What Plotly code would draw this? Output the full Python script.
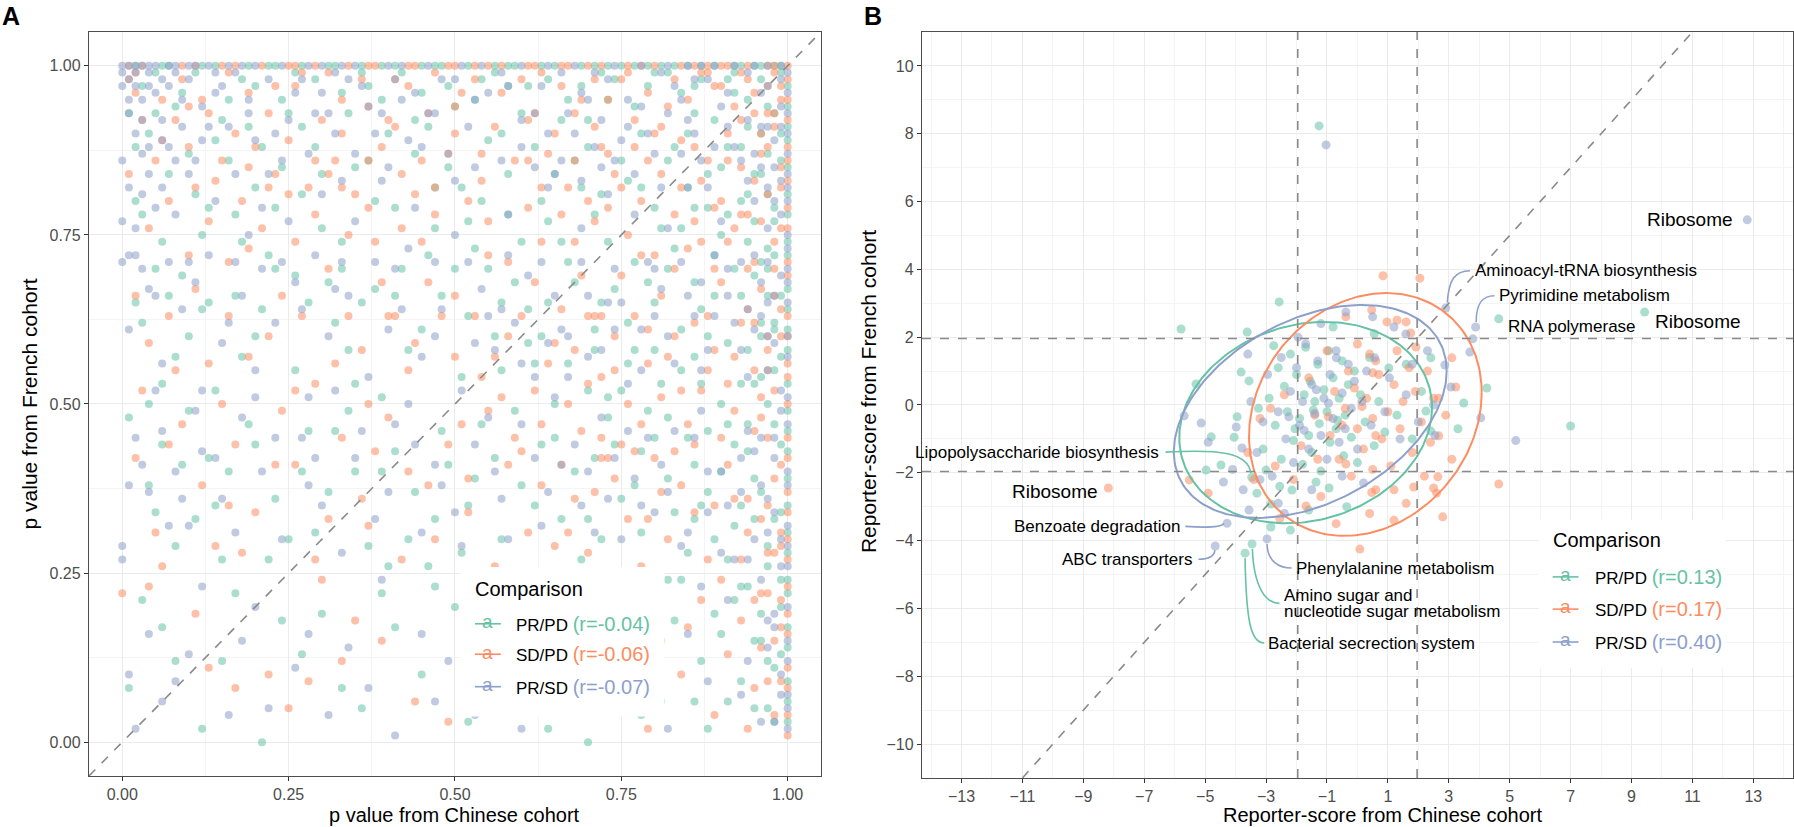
import numpy as np
import plotly.graph_objects as go

FONT = 'Liberation Sans, Arial, Helvetica, sans-serif'
GROUPS = ['PR/PD', 'SD/PD', 'PR/SD']
COLORS = {'PR/PD': '#66C2A5', 'SD/PD': '#FC8D62', 'PR/SD': '#8DA0CB'}

# ---------------- panel A : p values ----------------
# points sitting on the top edge (y = 1.00) -> x values
a_prpd_top_x = [0.02, 0.06, 0.07, 0.12, 0.14, 0.19, 0.22, 0.23, 0.27, 0.31, 0.32, 0.36, 0.39, 0.41, 0.45,
                0.47, 0.48, 0.52, 0.56, 0.58, 0.59, 0.63, 0.65, 0.69, 0.71, 0.73, 0.75, 0.77, 0.79, 0.81,
                0.83, 0.85, 0.87, 0.89, 0.92, 0.93, 0.95, 0.96, 0.98, 0.99]
a_sdpd_top_x = [0.01, 0.03, 0.09, 0.11, 0.15, 0.17, 0.21, 0.25, 0.26, 0.29, 0.34, 0.37, 0.38, 0.43, 0.44,
                0.49, 0.50, 0.53, 0.55, 0.57, 0.61, 0.62, 0.66, 0.67, 0.70, 0.72, 0.76, 0.78, 0.80, 0.84,
                0.86, 0.88, 0.90, 0.91, 0.94, 0.97, 0.98, 1.00]
a_prsd_top_x = [0.00, 0.01, 0.02, 0.03, 0.04, 0.05, 0.07, 0.08, 0.10, 0.11, 0.13, 0.16, 0.18, 0.20, 0.24,
                0.28, 0.30, 0.33, 0.35, 0.40, 0.42, 0.46, 0.51, 0.54, 0.60, 0.64, 0.68, 0.74, 0.78, 0.82,
                0.85, 0.87, 0.89, 0.92, 0.95, 0.97, 0.99]

# points sitting on the right edge (x = 1.00) -> y values
a_prpd_right_y = [0.03, 0.06, 0.09, 0.14, 0.17, 0.22, 0.24, 0.28, 0.31, 0.35, 0.39, 0.43, 0.46, 0.49,
                  0.53, 0.58, 0.61, 0.64, 0.67, 0.72, 0.74, 0.78, 0.81, 0.85, 0.89, 0.91, 0.94, 0.97]
a_sdpd_right_y = [0.01, 0.04, 0.08, 0.11, 0.16, 0.19, 0.23, 0.27, 0.30, 0.34, 0.37, 0.42, 0.45, 0.50,
                  0.54, 0.56, 0.60, 0.63, 0.69, 0.71, 0.76, 0.79, 0.83, 0.86, 0.88, 0.92, 0.95, 0.98]
a_prsd_right_y = [0.02, 0.05, 0.07, 0.12, 0.15, 0.20, 0.26, 0.29, 0.32, 0.38, 0.40, 0.47, 0.51, 0.57,
                  0.60, 0.65, 0.68, 0.70, 0.73, 0.75, 0.80, 0.82, 0.84, 0.87, 0.90, 0.93, 0.96, 0.99]

a_prpd_pts = [
    (0.01, 0.93), (0.02, 0.88), (0.04, 0.90), (0.07, 0.84), (0.10, 0.87), (0.13, 0.79), (0.16, 0.95), (0.19, 0.91),
    (0.21, 0.88), (0.25, 0.93), (0.27, 0.81), (0.30, 0.76), (0.33, 0.96), (0.35, 0.85), (0.38, 0.80), (0.40, 0.90),
    (0.44, 0.87), (0.47, 0.82), (0.50, 0.94), (0.52, 0.77), (0.55, 0.89), (0.58, 0.84), (0.61, 0.97), (0.63, 0.80),
    (0.66, 0.92), (0.68, 0.86), (0.71, 0.78), (0.73, 0.95), (0.76, 0.83), (0.78, 0.90), (0.81, 0.76), (0.83, 0.88),
    (0.86, 0.93), (0.88, 0.79), (0.90, 0.85), (0.92, 0.96), (0.94, 0.81), (0.96, 0.90), (0.98, 0.77), (0.99, 0.86),
    (0.03, 0.78), (0.09, 0.96), (0.24, 0.85), (0.45, 0.96), (0.57, 0.90), (0.69, 0.97), (0.79, 0.97), (0.85, 0.82),
    (0.93, 0.88), (0.97, 0.94), (0.18, 0.98), (0.36, 0.99), (0.54, 0.98), (0.82, 0.99), (0.91, 0.98),
    (0.03, 0.97), (0.08, 0.94), (0.11, 0.99), (0.15, 0.92), (0.20, 0.97), (0.24, 0.95), (0.29, 0.98), (0.34, 0.93),
    (0.37, 0.97), (0.42, 0.99), (0.46, 0.91), (0.49, 0.97), (0.53, 0.95), (0.56, 0.99), (0.60, 0.93), (0.64, 0.98),
    (0.67, 0.95), (0.70, 0.92), (0.74, 0.98), (0.77, 0.94), (0.80, 0.99), (0.84, 0.96), (0.87, 0.98), (0.89, 0.92),
    (0.92, 0.99), (0.94, 0.95), (0.96, 0.98), (0.98, 0.93), (0.99, 0.99), (0.05, 0.99), (0.26, 0.99), (0.39, 0.95),
    (0.58, 0.97), (0.72, 0.99), (0.86, 0.97),
    (0.97, 0.05), (0.98, 0.11), (0.96, 0.15), (0.99, 0.20), (0.97, 0.26), (0.98, 0.33), (0.95, 0.39), (0.99, 0.44),
    (0.97, 0.50), (0.98, 0.55), (0.96, 0.60), (0.99, 0.66), (0.97, 0.73), (0.98, 0.79), (0.95, 0.84), (0.99, 0.90),
    (0.94, 0.47), (0.96, 0.71), (0.93, 0.23), (0.99, 0.13), (0.98, 0.62), (0.97, 0.87),
    (0.02, 0.65), (0.03, 0.62), (0.05, 0.70), (0.08, 0.57), (0.09, 0.69), (0.12, 0.64), (0.14, 0.52), (0.17, 0.66),
    (0.20, 0.60), (0.22, 0.72), (0.26, 0.55), (0.28, 0.65), (0.31, 0.68), (0.34, 0.58), (0.36, 0.65), (0.39, 0.51),
    (0.42, 0.70), (0.45, 0.61), (0.48, 0.66), (0.51, 0.54), (0.53, 0.73), (0.56, 0.60), (0.59, 0.68), (0.62, 0.56),
    (0.64, 0.65), (0.67, 0.71), (0.70, 0.52), (0.72, 0.65), (0.74, 0.67), (0.77, 0.58), (0.80, 0.65), (0.82, 0.70),
    (0.84, 0.55), (0.87, 0.64), (0.89, 0.72), (0.91, 0.59), (0.93, 0.66), (0.95, 0.53), (0.97, 0.70), (0.98, 0.61),
    (0.99, 0.57), (0.06, 0.53), (0.18, 0.74), (0.33, 0.74), (0.50, 0.70), (0.61, 0.64), (0.75, 0.52), (0.86, 0.57),
    (0.94, 0.74), (0.96, 0.62), (0.13, 0.65), (0.57, 0.65),
    (0.02, 0.80), (0.06, 0.74), (0.10, 0.60), (0.12, 0.75), (0.16, 0.86), (0.18, 0.57), (0.21, 0.64), (0.23, 0.79),
    (0.26, 0.69), (0.29, 0.88), (0.32, 0.62), (0.35, 0.53), (0.38, 0.67), (0.41, 0.79), (0.43, 0.58), (0.46, 0.72),
    (0.49, 0.85), (0.52, 0.63), (0.54, 0.80), (0.57, 0.55), (0.60, 0.74), (0.63, 0.60), (0.65, 0.84), (0.68, 0.68),
    (0.71, 0.58), (0.73, 0.74), (0.76, 0.62), (0.79, 0.68), (0.81, 0.53), (0.84, 0.76), (0.86, 0.68), (0.88, 0.60),
    (0.91, 0.78), (0.93, 0.53), (0.95, 0.69),
    (0.01, 0.48), (0.04, 0.38), (0.06, 0.44), (0.11, 0.33), (0.13, 0.42), (0.15, 0.27), (0.19, 0.47), (0.23, 0.36),
    (0.27, 0.40), (0.29, 0.31), (0.32, 0.46), (0.37, 0.29), (0.41, 0.43), (0.44, 0.37), (0.46, 0.26), (0.49, 0.41),
    (0.52, 0.35), (0.54, 0.47), (0.57, 0.30), (0.60, 0.38), (0.63, 0.44), (0.66, 0.33), (0.69, 0.27), (0.71, 0.42),
    (0.73, 0.48), (0.75, 0.36), (0.78, 0.31), (0.80, 0.45), (0.82, 0.39), (0.85, 0.28), (0.87, 0.35), (0.88, 0.46),
    (0.90, 0.40), (0.92, 0.32), (0.94, 0.43), (0.96, 0.37), (0.97, 0.29), (0.98, 0.47), (0.99, 0.34), (0.08, 0.29),
    (0.04, 0.50), (0.09, 0.41), (0.14, 0.35), (0.20, 0.44), (0.25, 0.30), (0.31, 0.37), (0.34, 0.49), (0.39, 0.40),
    (0.43, 0.30), (0.48, 0.46), (0.51, 0.28), (0.56, 0.42), (0.59, 0.49), (0.62, 0.35), (0.65, 0.45), (0.68, 0.40),
    (0.70, 0.33), (0.74, 0.44), (0.77, 0.38), (0.79, 0.49), (0.83, 0.34), (0.86, 0.41), (0.89, 0.30), (0.91, 0.47),
    (0.95, 0.33),
    (0.01, 0.08), (0.03, 0.21), (0.06, 0.17), (0.08, 0.12), (0.12, 0.02), (0.17, 0.22), (0.21, 0.00), (0.27, 0.13),
    (0.30, 0.19), (0.36, 0.05), (0.41, 0.17), (0.45, 0.10), (0.47, 0.23), (0.52, 0.03), (0.55, 0.15), (0.58, 0.21),
    (0.64, 0.02), (0.70, 0.00), (0.74, 0.23), (0.78, 0.04), (0.80, 0.13), (0.83, 0.18), (0.86, 0.06), (0.88, 0.02),
    (0.90, 0.16), (0.92, 0.21), (0.93, 0.09), (0.95, 0.05), (0.96, 0.19), (0.97, 0.12), (0.98, 0.03), (0.99, 0.24),
    (0.15, 0.12), (0.24, 0.18), (0.33, 0.08), (0.39, 0.22), (0.50, 0.20), (0.61, 0.14), (0.68, 0.07), (0.76, 0.16),
    (0.82, 0.24), (0.87, 0.12), (0.91, 0.06), (0.94, 0.23),
]
a_prpd_pts2 = [
    (0.62, 0.88), (0.64, 0.77), (0.66, 0.74), (0.69, 0.82), (0.70, 0.88), (0.72, 0.81), (0.75, 0.86), (0.77, 0.71),
    (0.78, 0.82), (0.80, 0.79), (0.82, 0.86), (0.83, 0.73), (0.85, 0.90), (0.86, 0.79), (0.88, 0.84), (0.89, 0.66),
    (0.90, 0.75), (0.91, 0.88), (0.92, 0.70), (0.93, 0.80), (0.94, 0.91), (0.95, 0.77), (0.96, 0.84), (0.97, 0.66),
    (0.98, 0.72), (0.97, 0.81), (0.96, 0.54), (0.94, 0.58), (0.92, 0.44), (0.90, 0.50), (0.88, 0.37), (0.87, 0.53),
    (0.85, 0.45), (0.84, 0.61), (0.82, 0.48), (0.80, 0.58), (0.78, 0.43), (0.76, 0.56), (0.73, 0.51), (0.71, 0.61),
    (0.67, 0.56), (0.65, 0.50), (0.61, 0.59), (0.58, 0.78), (0.55, 0.70), (0.51, 0.82), (0.47, 0.76), (0.44, 0.92),
    (0.41, 0.66), (0.37, 0.86), (0.33, 0.70), (0.30, 0.84), (0.27, 0.91), (0.23, 0.70), (0.20, 0.82), (0.17, 0.78),
    (0.14, 0.89), (0.11, 0.81), (0.07, 0.66), (0.05, 0.93), (0.95, 0.15), (0.93, 0.35), (0.91, 0.27), (0.89, 0.19),
    (0.86, 0.33), (0.84, 0.24), (0.81, 0.06), (0.77, 0.20), (0.72, 0.30), (0.66, 0.21), (0.59, 0.09), (0.53, 0.39),
    (0.47, 0.33), (0.40, 0.26), (0.35, 0.40), (0.28, 0.46), (0.22, 0.27), (0.16, 0.40), (0.10, 0.49), (0.05, 0.34),
]

a_sdpd_pts = [
    (0.01, 0.98), (0.02, 0.96), (0.05, 0.86), (0.08, 0.92), (0.10, 0.88), (0.12, 0.95), (0.14, 0.83), (0.17, 0.90),
    (0.19, 0.85), (0.23, 0.97), (0.25, 0.89), (0.28, 0.82), (0.30, 0.92), (0.32, 0.86), (0.35, 0.81), (0.37, 0.94),
    (0.39, 0.88), (0.42, 0.84), (0.44, 0.81), (0.46, 0.93), (0.49, 0.87), (0.51, 0.96), (0.54, 0.83), (0.56, 0.91),
    (0.59, 0.86), (0.62, 0.93), (0.64, 0.87), (0.67, 0.82), (0.69, 0.95), (0.72, 0.88), (0.74, 0.84), (0.77, 0.92),
    (0.79, 0.86), (0.82, 0.94), (0.84, 0.89), (0.87, 0.83), (0.89, 0.97), (0.91, 0.90), (0.93, 0.85), (0.95, 0.93),
    (0.96, 0.87), (0.97, 0.97), (0.98, 0.91), (0.99, 0.82), (0.27, 0.99), (0.41, 0.98), (0.60, 0.98), (0.75, 0.98),
    (0.88, 0.99), (0.94, 0.98), (0.11, 0.82), (0.22, 0.82), (0.33, 0.82), (0.47, 0.82), (0.99, 0.95),
    (0.02, 0.99), (0.06, 0.95), (0.09, 0.98), (0.13, 0.93), (0.16, 0.99), (0.19, 0.96), (0.22, 0.93), (0.26, 0.97),
    (0.31, 0.99), (0.33, 0.95), (0.36, 0.98), (0.40, 0.92), (0.43, 0.97), (0.47, 0.99), (0.50, 0.94), (0.53, 0.98),
    (0.57, 0.96), (0.61, 0.92), (0.63, 0.99), (0.66, 0.97), (0.68, 0.93), (0.71, 0.98), (0.73, 0.95), (0.76, 0.99),
    (0.79, 0.96), (0.81, 0.91), (0.83, 0.98), (0.85, 0.95), (0.87, 0.99), (0.90, 0.97), (0.92, 0.94), (0.93, 0.99),
    (0.95, 0.96), (0.97, 0.93), (0.98, 0.99), (0.99, 0.97),
    (0.98, 0.04), (0.97, 0.09), (0.99, 0.17), (0.96, 0.22), (0.98, 0.28), (0.97, 0.35), (0.99, 0.41), (0.96, 0.48),
    (0.98, 0.52), (0.97, 0.58), (0.99, 0.64), (0.96, 0.67), (0.98, 0.74), (0.97, 0.81), (0.99, 0.85), (0.96, 0.90),
    (0.94, 0.36), (0.95, 0.62), (0.93, 0.78), (0.99, 0.31), (0.97, 0.45), (0.98, 0.93),
    (0.02, 0.66), (0.04, 0.59), (0.07, 0.63), (0.11, 0.67), (0.13, 0.56), (0.16, 0.63), (0.19, 0.73), (0.22, 0.60),
    (0.24, 0.66), (0.27, 0.63), (0.29, 0.53), (0.31, 0.70), (0.34, 0.63), (0.36, 0.58), (0.38, 0.74), (0.41, 0.63),
    (0.43, 0.55), (0.46, 0.68), (0.48, 0.63), (0.50, 0.57), (0.53, 0.63), (0.55, 0.72), (0.57, 0.51), (0.60, 0.63),
    (0.62, 0.68), (0.65, 0.59), (0.68, 0.74), (0.70, 0.63), (0.72, 0.54), (0.75, 0.69), (0.77, 0.63), (0.79, 0.56),
    (0.81, 0.66), (0.83, 0.60), (0.85, 0.73), (0.87, 0.52), (0.88, 0.63), (0.90, 0.68), (0.92, 0.57), (0.94, 0.64),
    (0.95, 0.71), (0.97, 0.55), (0.98, 0.66), (0.99, 0.60), (0.71, 0.63), (0.72, 0.63), (0.40, 0.63), (0.56, 0.57),
    (0.01, 0.84), (0.04, 0.76), (0.07, 0.80), (0.10, 0.72), (0.13, 0.77), (0.16, 0.71), (0.18, 0.80), (0.21, 0.76),
    (0.23, 0.84), (0.26, 0.74), (0.29, 0.78), (0.31, 0.84), (0.34, 0.75), (0.37, 0.79), (0.39, 0.68), (0.42, 0.76),
    (0.45, 0.74), (0.47, 0.78), (0.50, 0.66), (0.52, 0.80), (0.55, 0.77), (0.58, 0.71), (0.61, 0.79), (0.63, 0.74),
    (0.66, 0.78), (0.69, 0.69), (0.71, 0.77), (0.73, 0.79), (0.76, 0.75), (0.78, 0.80), (0.80, 0.72), (0.83, 0.78),
    (0.86, 0.77), (0.89, 0.79), (0.91, 0.74), (0.94, 0.78),
    (0.02, 0.42), (0.05, 0.31), (0.09, 0.47), (0.12, 0.38), (0.14, 0.29), (0.17, 0.44), (0.20, 0.34), (0.24, 0.49),
    (0.26, 0.41), (0.29, 0.27), (0.33, 0.45), (0.36, 0.36), (0.37, 0.32), (0.40, 0.48), (0.43, 0.40), (0.47, 0.30),
    (0.49, 0.44), (0.52, 0.39), (0.55, 0.49), (0.58, 0.41), (0.61, 0.31), (0.63, 0.47), (0.66, 0.41), (0.68, 0.36),
    (0.70, 0.28), (0.72, 0.45), (0.74, 0.39), (0.76, 0.33), (0.78, 0.47), (0.80, 0.42), (0.82, 0.30), (0.84, 0.38),
    (0.86, 0.44), (0.89, 0.35), (0.91, 0.41), (0.93, 0.27), (0.95, 0.46), (0.96, 0.33), (0.98, 0.39), (0.99, 0.29),
    (0.72, 0.42), (0.73, 0.42),
    (0.03, 0.52), (0.08, 0.55), (0.15, 0.50), (0.19, 0.57), (0.26, 0.52), (0.32, 0.56), (0.37, 0.50), (0.44, 0.59),
    (0.51, 0.47), (0.54, 0.54), (0.59, 0.45), (0.64, 0.56), (0.67, 0.50), (0.69, 0.46), (0.74, 0.55), (0.77, 0.43),
    (0.81, 0.51), (0.85, 0.47), (0.88, 0.55), (0.92, 0.49), (0.96, 0.51),
    (0.00, 0.22), (0.04, 0.23), (0.11, 0.19), (0.13, 0.11), (0.17, 0.08), (0.22, 0.10), (0.25, 0.05), (0.28, 0.09),
    (0.33, 0.12), (0.35, 0.18), (0.39, 0.15), (0.44, 0.06), (0.49, 0.03), (0.53, 0.18), (0.57, 0.11), (0.62, 0.22),
    (0.67, 0.14), (0.70, 0.24), (0.73, 0.08), (0.76, 0.19), (0.79, 0.02), (0.81, 0.15), (0.84, 0.10), (0.87, 0.21),
    (0.89, 0.04), (0.91, 0.13), (0.93, 0.18), (0.95, 0.08), (0.97, 0.22), (0.98, 0.15),
    (0.06, 0.26), (0.18, 0.28), (0.30, 0.24), (0.42, 0.27), (0.56, 0.26), (0.65, 0.29), (0.78, 0.26), (0.85, 0.17),
    (0.90, 0.24), (0.94, 0.02), (0.96, 0.14), (0.99, 0.09),
]
a_sdpd_pts2 = [
    (0.61, 0.86), (0.63, 0.82), (0.65, 0.90), (0.68, 0.86), (0.70, 0.80), (0.71, 0.91), (0.73, 0.87), (0.75, 0.82),
    (0.77, 0.88), (0.78, 0.72), (0.80, 0.90), (0.81, 0.84), (0.83, 0.70), (0.84, 0.82), (0.86, 0.88), (0.87, 0.74),
    (0.88, 0.86), (0.89, 0.70), (0.90, 0.80), (0.91, 0.86), (0.92, 0.76), (0.93, 0.92), (0.94, 0.70), (0.95, 0.83),
    (0.96, 0.77), (0.97, 0.88), (0.98, 0.70), (0.99, 0.76), (0.97, 0.60), (0.95, 0.55), (0.93, 0.62), (0.91, 0.53),
    (0.89, 0.58), (0.86, 0.62), (0.84, 0.52), (0.82, 0.57), (0.79, 0.61), (0.76, 0.50), (0.74, 0.60), (0.70, 0.53),
    (0.68, 0.58), (0.66, 0.64), (0.62, 0.52), (0.58, 0.60), (0.54, 0.87), (0.50, 0.90), (0.45, 0.86), (0.41, 0.91),
    (0.37, 0.86), (0.33, 0.90), (0.29, 0.86), (0.25, 0.81), (0.20, 0.88), (0.15, 0.86), (0.10, 0.94), (0.06, 0.89),
    (0.03, 0.92), (0.99, 0.21), (0.97, 0.28), (0.95, 0.21), (0.94, 0.31), (0.92, 0.36), (0.90, 0.45), (0.88, 0.27),
    (0.86, 0.34), (0.83, 0.43), (0.81, 0.37), (0.79, 0.33), (0.75, 0.44), (0.71, 0.37), (0.67, 0.31), (0.63, 0.38),
    (0.60, 0.43), (0.52, 0.34), (0.46, 0.38), (0.38, 0.43), (0.31, 0.33), (0.23, 0.41), (0.16, 0.35), (0.07, 0.44),
]

a_prsd_pts = [
    (0.00, 0.97), (0.01, 0.93), (0.02, 0.90), (0.03, 0.95), (0.00, 0.86), (0.04, 0.84), (0.06, 0.92), (0.07, 0.88),
    (0.09, 0.95), (0.05, 0.79), (0.11, 0.86), (0.13, 0.91), (0.15, 0.97), (0.17, 0.84), (0.19, 0.93), (0.21, 0.79),
    (0.23, 0.90), (0.26, 0.96), (0.28, 0.87), (0.31, 0.93), (0.33, 0.83), (0.36, 0.97), (0.38, 0.90), (0.40, 0.85),
    (0.42, 0.95), (0.45, 0.88), (0.48, 0.98), (0.50, 0.83), (0.52, 0.91), (0.55, 0.96), (0.57, 0.86), (0.60, 0.92),
    (0.63, 0.97), (0.65, 0.84), (0.68, 0.90), (0.70, 0.95), (0.73, 0.81), (0.75, 0.89), (0.78, 0.94), (0.80, 0.87),
    (0.83, 0.97), (0.85, 0.92), (0.87, 0.86), (0.90, 0.94), (0.92, 0.88), (0.94, 0.83), (0.96, 0.96), (0.97, 0.91),
    (0.98, 0.85), (0.99, 0.94), (0.08, 0.99), (0.14, 0.99), (0.32, 0.99), (0.57, 0.99), (0.71, 0.99), (0.86, 0.98),
    (0.01, 0.98), (0.02, 0.99), (0.04, 0.97), (0.06, 0.98), (0.03, 0.87), (0.01, 0.82), (0.02, 0.76),
    (0.00, 0.99), (0.01, 0.95), (0.02, 0.97), (0.03, 0.92), (0.04, 0.99), (0.05, 0.96), (0.06, 0.89), (0.07, 0.97),
    (0.09, 0.91), (0.10, 0.98), (0.12, 0.94), (0.14, 0.96), (0.17, 0.99), (0.19, 0.95), (0.22, 0.98), (0.25, 0.92),
    (0.27, 0.98), (0.30, 0.96), (0.34, 0.98), (0.37, 0.94), (0.41, 0.98), (0.44, 0.96), (0.47, 0.93), (0.50, 0.98),
    (0.53, 0.95), (0.58, 0.97), (0.62, 0.93), (0.66, 0.99), (0.69, 0.96), (0.73, 0.98), (0.76, 0.95), (0.81, 0.99),
    (0.84, 0.95), (0.88, 0.98), (0.91, 0.96), (0.94, 0.99), (0.97, 0.97), (0.99, 0.98),
    (0.98, 0.03), (0.99, 0.10), (0.97, 0.14), (0.98, 0.19), (0.96, 0.24), (0.99, 0.30), (0.97, 0.36), (0.98, 0.42),
    (0.96, 0.45), (0.99, 0.49), (0.97, 0.55), (0.98, 0.59), (0.96, 0.63), (0.99, 0.69), (0.97, 0.76), (0.98, 0.80),
    (0.96, 0.85), (0.99, 0.91), (0.95, 0.72), (0.94, 0.27), (0.99, 0.78), (0.98, 0.66),
    (0.00, 0.71), (0.02, 0.72), (0.03, 0.70), (0.07, 0.71), (0.10, 0.71), (0.13, 0.72), (0.17, 0.71), (0.21, 0.70),
    (0.24, 0.71), (0.29, 0.72), (0.33, 0.71), (0.38, 0.71), (0.41, 0.70), (0.47, 0.71), (0.52, 0.71), (0.58, 0.72),
    (0.63, 0.71), (0.69, 0.71), (0.74, 0.70), (0.79, 0.71), (0.84, 0.71), (0.89, 0.72), (0.93, 0.71), (0.97, 0.71),
    (0.01, 0.61), (0.04, 0.67), (0.06, 0.56), (0.09, 0.64), (0.12, 0.52), (0.15, 0.59), (0.18, 0.66), (0.20, 0.55),
    (0.23, 0.62), (0.26, 0.68), (0.28, 0.51), (0.31, 0.60), (0.34, 0.66), (0.37, 0.54), (0.40, 0.61), (0.43, 0.73),
    (0.45, 0.57), (0.48, 0.64), (0.51, 0.52), (0.54, 0.67), (0.56, 0.58), (0.59, 0.62), (0.62, 0.54), (0.65, 0.66),
    (0.67, 0.60), (0.70, 0.57), (0.73, 0.65), (0.76, 0.53), (0.78, 0.61), (0.81, 0.67), (0.83, 0.56), (0.86, 0.63),
    (0.88, 0.58), (0.91, 0.66), (0.94, 0.54), (0.95, 0.61), (0.97, 0.65), (0.99, 0.52),
    (0.00, 0.77), (0.01, 0.72), (0.03, 0.81), (0.05, 0.66), (0.08, 0.78), (0.11, 0.68), (0.14, 0.80), (0.16, 0.62),
    (0.19, 0.75), (0.22, 0.84), (0.25, 0.77), (0.27, 0.64), (0.30, 0.81), (0.32, 0.67), (0.35, 0.77), (0.39, 0.83),
    (0.42, 0.64), (0.44, 0.79), (0.47, 0.60), (0.50, 0.75), (0.53, 0.85), (0.55, 0.63), (0.58, 0.78), (0.61, 0.69),
    (0.64, 0.82), (0.66, 0.61), (0.69, 0.76), (0.72, 0.85), (0.74, 0.61), (0.77, 0.78), (0.80, 0.63), (0.82, 0.76),
    (0.85, 0.82), (0.87, 0.68), (0.90, 0.77), (0.92, 0.62), (0.95, 0.80),
    (0.00, 0.29), (0.00, 0.27), (0.02, 0.45), (0.03, 0.41), (0.04, 0.37), (0.06, 0.46), (0.08, 0.40), (0.10, 0.32),
    (0.12, 0.43), (0.15, 0.36), (0.18, 0.48), (0.21, 0.40), (0.24, 0.30), (0.27, 0.45), (0.30, 0.35), (0.33, 0.28),
    (0.35, 0.42), (0.38, 0.33), (0.41, 0.47), (0.45, 0.31), (0.48, 0.38), (0.51, 0.29), (0.53, 0.44), (0.57, 0.36),
    (0.60, 0.47), (0.63, 0.32), (0.66, 0.41), (0.69, 0.35), (0.72, 0.48), (0.75, 0.30), (0.77, 0.39), (0.80, 0.34),
    (0.83, 0.46), (0.85, 0.31), (0.88, 0.40), (0.90, 0.28), (0.93, 0.37), (0.95, 0.43), (0.97, 0.31), (0.98, 0.45),
    (0.01, 0.38), (0.05, 0.52), (0.07, 0.32), (0.11, 0.49), (0.14, 0.42), (0.17, 0.31), (0.20, 0.51), (0.23, 0.45),
    (0.28, 0.38), (0.32, 0.52), (0.36, 0.46), (0.40, 0.37), (0.43, 0.50), (0.47, 0.41), (0.50, 0.34), (0.55, 0.48),
    (0.58, 0.30), (0.62, 0.42), (0.65, 0.51), (0.68, 0.44), (0.71, 0.31), (0.74, 0.42), (0.79, 0.45), (0.82, 0.37),
    (0.87, 0.49), (0.91, 0.35), (0.94, 0.46),
    (0.01, 0.10), (0.02, 0.02), (0.04, 0.16), (0.06, 0.06), (0.08, 0.09), (0.10, 0.13), (0.16, 0.04), (0.18, 0.15),
    (0.22, 0.05), (0.26, 0.11), (0.31, 0.04), (0.34, 0.14), (0.37, 0.08), (0.41, 0.01), (0.45, 0.16), (0.49, 0.12),
    (0.53, 0.04), (0.56, 0.20), (0.60, 0.02), (0.64, 0.12), (0.68, 0.17), (0.71, 0.07), (0.75, 0.21), (0.78, 0.12),
    (0.82, 0.02), (0.85, 0.16), (0.88, 0.09), (0.91, 0.21), (0.94, 0.12), (0.96, 0.03), (0.98, 0.17), (0.99, 0.07),
    (0.12, 0.23), (0.20, 0.20), (0.28, 0.16), (0.39, 0.24), (0.47, 0.06), (0.58, 0.16), (0.66, 0.24), (0.73, 0.14),
    (0.80, 0.19), (0.87, 0.23), (0.93, 0.07), (0.97, 0.18),
]
a_prsd_pts2 = [
    (0.60, 0.88), (0.62, 0.85), (0.64, 0.90), (0.66, 0.86), (0.67, 0.93), (0.69, 0.83), (0.71, 0.88), (0.72, 0.92),
    (0.74, 0.86), (0.76, 0.91), (0.77, 0.84), (0.79, 0.90), (0.81, 0.82), (0.82, 0.93), (0.84, 0.87), (0.86, 0.90),
    (0.88, 0.82), (0.89, 0.88), (0.91, 0.91), (0.93, 0.86), (0.94, 0.92), (0.95, 0.87), (0.96, 0.91), (0.97, 0.82),
    (0.98, 0.89), (0.99, 0.83), (0.97, 0.60), (0.96, 0.68), (0.94, 0.64), (0.93, 0.58), (0.91, 0.70), (0.89, 0.63),
    (0.87, 0.55), (0.85, 0.66), (0.82, 0.60), (0.80, 0.70), (0.78, 0.55), (0.75, 0.65), (0.72, 0.58), (0.70, 0.66),
    (0.67, 0.54), (0.64, 0.59), (0.60, 0.56), (0.57, 0.64), (0.53, 0.59), (0.49, 0.87), (0.46, 0.93), (0.43, 0.89),
    (0.39, 0.93), (0.35, 0.87), (0.32, 0.90), (0.29, 0.93), (0.24, 0.86), (0.20, 0.89), (0.16, 0.91), (0.12, 0.89),
    (0.10, 0.84), (0.08, 0.86), (0.06, 0.82), (0.04, 0.88), (0.99, 0.26), (0.98, 0.34), (0.96, 0.38), (0.95, 0.30),
    (0.93, 0.42), (0.92, 0.27), (0.90, 0.40), (0.88, 0.34), (0.86, 0.45), (0.84, 0.29), (0.81, 0.41), (0.78, 0.35),
    (0.76, 0.46), (0.73, 0.36), (0.70, 0.40), (0.64, 0.37), (0.56, 0.40), (0.44, 0.44), (0.29, 0.42), (0.09, 0.36),
]

r_a = ['-0.04', '-0.06', '-0.07']

# ---------------- panel B : reporter scores ----------------
b_prpd_pts = [
    (-5.79, 2.24), (-3.62, 2.15), (-2.57, 3.04), (-1.26, 8.23), (-5.30, 0.62), (-3.82, 0.97), (-3.56, 0.71),
    (-4.80, -0.94), (-3.95, -0.35), (-4.97, -1.92), (-4.48, -1.77), (-3.47, -2.13), (-3.00, -1.92), (-2.84, -2.92),
    (-2.84, -3.60), (-2.15, -2.51), (-2.20, -3.69), (-0.93, -2.45), (-1.36, -2.27), (-3.46, -4.10), (-3.69, -4.37),
    (-3.30, -2.60), (-3.10, -1.30), (-2.90, 0.20), (-2.70, -0.60), (-2.60, 1.10), (-2.50, -1.60), (-2.40, 0.55),
    (-2.30, -0.20), (-2.20, 1.50), (-2.10, -1.05), (-2.00, 0.90), (-1.90, -0.40), (-1.80, -1.75), (-1.75, 0.30),
    (-1.70, 1.70), (-1.60, -0.90), (-1.55, 0.70), (-1.50, -1.40), (-1.40, 0.10), (-1.30, 1.20), (-1.25, -0.55),
    (-1.20, -1.95), (-1.10, 0.45), (-1.00, -0.20), (-0.95, 1.60), (-0.90, -1.10), (-0.80, 0.80), (-0.70, -0.70),
    (-0.60, 0.20), (-0.50, 1.30), (-0.45, -1.50), (-0.40, -0.30), (-0.30, 0.60), (-0.20, -0.95), (-0.10, 1.00),
    (0.00, -1.70), (0.10, 0.30), (0.25, -0.50), (0.40, 1.40), (0.55, -1.20), (0.70, 0.10), (0.90, -0.80),
    (1.03, 1.09), (1.30, -0.30), (1.60, 1.20), (1.80, -1.00), (2.10, 0.40), (2.25, -0.18), (2.41, 1.39),
    (2.41, -0.77), (3.49, 0.06), (4.25, 0.50), (7.00, -0.62), (9.43, 2.74), (4.64, 2.54), (-0.35, -3.00),
    (-1.60, -3.10), (-2.55, -2.40), (-4.05, -0.95), (0.55, 2.10), (-0.80, 2.30), (-2.05, -0.70), (-1.45, -0.15),
    (-0.65, -0.45), (-3.25, -0.10), (-2.75, 1.75), (3.30, -0.70),
]

b_sdpd_pts = [
    (0.84, 3.81), (2.05, 3.74), (4.64, -2.33), (0.08, -4.25), (-8.18, -2.45), (-5.52, -2.21), (-4.90, -2.60),
    (-3.60, -1.40), (-3.20, -0.40), (-2.70, -1.80), (-2.40, 0.30), (-2.10, -2.20), (-1.85, -1.20), (-1.60, 0.80),
    (-1.40, -0.30), (-1.20, -2.70), (-1.00, 1.60), (-0.90, -0.90), (-0.75, 0.40), (-0.60, -1.60), (-0.40, -0.10),
    (-0.30, 1.00), (-0.20, -2.10), (-0.10, 0.50), (0.00, -0.70), (0.20, -1.30), (0.30, 0.20), (0.40, 1.50),
    (0.50, -0.40), (0.60, -2.50), (0.70, 0.90), (0.80, -1.00), (1.00, -0.20), (1.10, -1.80), (1.20, 0.60),
    (1.30, 1.60), (1.40, -0.70), (1.50, 0.10), (1.60, -2.90), (1.70, 1.10), (1.80, -1.40), (1.90, 0.40),
    (2.10, -0.50), (2.20, -2.10), (2.30, 1.00), (2.40, -1.10), (2.50, 0.20), (2.60, -2.60), (2.90, -0.30),
    (3.10, -1.60), (3.23, 0.53), (3.10, 1.39), (2.67, -0.91), (2.64, -2.12), (1.85, -2.42), (2.50, -2.45),
    (1.20, -2.50), (0.47, -2.58), (-1.69, -2.98), (-0.38, -1.74), (0.50, -1.90), (0.47, 2.80), (0.97, 2.45),
    (1.30, 2.50), (1.60, 2.45), (-0.38, 2.60), (1.75, 2.12), (1.92, 1.71), (0.60, 1.30), (0.50, 0.95),
    (2.67, 0.20), (-2.55, -3.35), (-0.70, -3.50), (0.40, -3.20), (1.20, -3.40), (-2.85, -0.10), (-3.40, -2.20),
    (0.00, 1.80), (2.80, -3.30), (-1.30, -1.60), (0.60, -0.90), (-0.50, -0.60), (0.15, -0.05), (-0.95, -0.35),
]

b_prsd_pts = [
    (12.80, 5.46), (-1.03, 7.67), (2.90, 2.86), (3.88, 2.30), (-4.28, -3.49), (-4.67, -4.16), (-2.97, -3.95),
    (5.20, -1.05), (4.05, -0.38), (3.79, 1.95), (3.69, 1.56), (3.07, 0.53), (2.87, 1.18), (1.59, 2.09),
    (-5.13, -0.53), (-5.69, -0.32), (-3.56, -3.10), (-3.75, -2.50), (-4.40, -2.27), (-4.10, -1.90), (-3.98, -0.65),
    (-3.79, -1.27), (-3.50, 0.10), (-3.30, -1.40), (-3.10, -0.50), (-2.95, 0.90), (-2.80, -2.10), (-2.60, -0.20),
    (-2.50, 1.40), (-2.35, -1.00), (-2.20, 0.40), (-2.10, -1.70), (-2.00, 1.10), (-1.90, -0.60), (-1.80, 0.10),
    (-1.70, 1.80), (-1.60, -1.30), (-1.50, 0.60), (-1.40, -0.25), (-1.30, 1.30), (-1.20, -0.90), (-1.10, 0.20),
    (-1.00, -1.60), (-0.90, 0.90), (-0.80, -0.40), (-0.70, 1.60), (-0.60, -1.10), (-0.50, 0.35), (-0.40, -0.70),
    (-0.30, 1.20), (-0.20, -0.10), (-0.10, 0.70), (0.00, -1.30), (0.15, 0.10), (0.30, 1.00), (0.45, -0.60),
    (0.57, 1.39), (0.90, -0.20), (1.05, 0.80), (1.20, 2.30), (1.40, -1.00), (1.60, 0.30), (1.80, 1.20),
    (2.00, -0.50), (2.30, 1.60), (2.50, 0.00), (-0.38, 2.74), (-1.20, 2.40), (-2.60, -2.90), (-1.50, -2.50),
    (-0.50, -2.10), (-3.20, -2.20), (-2.40, -3.20), (0.20, -2.30), (-4.90, -1.10), (-1.95, 2.00), (0.50, 2.60),
    (-3.60, 1.50), (2.55, -0.90), (-0.69, 1.39), (-1.75, -0.75), (-2.25, -0.35), (-0.95, 0.05), (-1.35, 0.45),
]

r_b = ['0.13', '0.17', '0.40']

# stat_ellipse outlines: centre, half extents, correlation
ell_cx = [-1.70, 0.26, -1.55]
ell_cy = [-0.52, -0.28, -0.19]
ell_ax = [4.15, 3.82, 4.48]
ell_ay = [2.97, 3.58, 3.14]
ell_rho = [0.15, 0.18, 0.38]

# labelled pathways (label text, colour group, text anchor point, alignment, font size)
b_labels = [
    ('Ribosome', 'PR/SD', 12.40, 5.46, 'right', 19),
    ('Ribosome', 'PR/PD', 9.69, 2.45, 'left', 19),
    ('RNA polymerase', 'PR/PD', 4.87, 2.30, 'left', 17),
    ('Pyrimidine metabolism', 'PR/SD', 4.57, 3.22, 'left', 17),
    ('Aminoacyl-tRNA biosynthesis', 'PR/SD', 3.79, 3.96, 'left', 17),
    ('Lipopolysaccharide biosynthesis', 'PR/PD', -6.44, -1.39, 'right', 17),
    ('Ribosome', 'SD/PD', -8.44, -2.56, 'right', 19),
    ('Benzoate degradation', 'PR/SD', -5.75, -3.57, 'right', 17),
    ('ABC transporters', 'PR/SD', -5.36, -4.55, 'right', 17),
    ('Phenylalanine metabolism', 'PR/SD', -2.08, -4.81, 'left', 17),
    ('Amino sugar and', 'PR/PD', -2.48, -5.63, 'left', 17),
    ('nucleotide sugar metabolism', 'PR/PD', -2.48, -6.10, 'left', 17),
    ('Bacterial secrection system', 'PR/PD', -3.00, -7.02, 'left', 17),
]
# repel segments (curved) from the point to its label
b_leaders = [
    ('PR/SD', 'M 2.95,3.02 C 3.00,3.70 3.20,3.96 3.70,3.96'),
    ('PR/SD', 'M 3.90,2.45 C 3.90,3.00 4.10,3.22 4.50,3.22'),
    ('PR/PD', 'M -6.30,-1.39 C -4.50,-1.30 -3.60,-1.40 -3.50,-2.00'),
    ('PR/SD', 'M -5.65,-3.58 C -5.00,-3.62 -4.50,-3.62 -4.38,-3.50'),
    ('PR/SD', 'M -5.22,-4.55 C -4.85,-4.55 -4.70,-4.45 -4.68,-4.28'),
    ('PR/SD', 'M -2.97,-4.10 C -2.95,-4.60 -2.60,-4.81 -2.16,-4.81'),
    ('PR/PD', 'M -3.45,-4.25 C -3.40,-5.40 -3.00,-5.85 -2.56,-5.85'),
    ('PR/PD', 'M -3.69,-4.52 C -3.65,-6.40 -3.50,-7.02 -3.06,-7.02'),
]

a_sets = {'PR/PD': (a_prpd_top_x, a_prpd_right_y, a_prpd_pts + a_prpd_pts2),
          'SD/PD': (a_sdpd_top_x, a_sdpd_right_y, a_sdpd_pts + a_sdpd_pts2),
          'PR/SD': (a_prsd_top_x, a_prsd_right_y, a_prsd_pts + a_prsd_pts2)}
b_sets = {'PR/PD': b_prpd_pts, 'SD/PD': b_sdpd_pts, 'PR/SD': b_prsd_pts}

fig = go.Figure()

for g in GROUPS:
    top_x, right_y, pts = a_sets[g]
    xs = list(top_x) + [1.0] * len(right_y) + [p[0] for p in pts]
    ys = [1.0] * len(top_x) + list(right_y) + [p[1] for p in pts]
    fig.add_trace(go.Scatter(x=xs, y=ys, mode='markers', xaxis='x', yaxis='y', showlegend=False,
                             marker=dict(size=8, color=COLORS[g], opacity=0.55, line=dict(width=0)),
                             hoverinfo='skip'))

for g in GROUPS:
    pts = b_sets[g]
    fig.add_trace(go.Scatter(x=[p[0] for p in pts], y=[p[1] for p in pts], mode='markers',
                             xaxis='x2', yaxis='y2', showlegend=False,
                             marker=dict(size=9, color=COLORS[g], opacity=0.55, line=dict(width=0)),
                             hoverinfo='skip'))

t = np.linspace(0, 2 * np.pi, 240)
for i, g in enumerate(GROUPS):
    d = np.arccos(ell_rho[i])
    ex = ell_cx[i] + ell_ax[i] * np.cos(t)
    ey = ell_cy[i] + ell_ay[i] * np.cos(t + d)
    fig.add_trace(go.Scatter(x=ex, y=ey, mode='lines', xaxis='x2', yaxis='y2', showlegend=False,
                             line=dict(color=COLORS[g], width=2), hoverinfo='skip'))

DASH = dict(color='#8a8a8a', width=1.6, dash='dash')
shapes = [
    dict(type='line', xref='x', yref='y', x0=-0.05, y0=-0.05, x1=1.05, y1=1.05, line=DASH, layer='above'),
    dict(type='line', xref='x2', yref='y2', x0=-1.96, x1=-1.96, y0=-11, y1=11, line=DASH, layer='above'),
    dict(type='line', xref='x2', yref='y2', x0=1.96, x1=1.96, y0=-11, y1=11, line=DASH, layer='above'),
    dict(type='line', xref='x2', yref='y2', x0=-14.3, x1=14.3, y0=-1.96, y1=-1.96, line=DASH, layer='above'),
    dict(type='line', xref='x2', yref='y2', x0=-14.3, x1=14.3, y0=1.96, y1=1.96, line=DASH, layer='above'),
    dict(type='line', xref='x2', yref='y2', x0=-11, y0=-11, x1=11, y1=11, line=DASH, layer='above'),
    # legend backgrounds
    dict(type='rect', xref='x', yref='y', x0=0.508, x1=0.815, y0=0.038, y1=0.259,
         fillcolor='white', line=dict(width=0), layer='above'),
    dict(type='rect', xref='x2', yref='y2', x0=5.95, x1=12.1, y0=-7.76, y1=-3.39,
         fillcolor='white', line=dict(width=0), layer='above'),
]
for g, path in b_leaders:
    shapes.append(dict(type='path', xref='x2', yref='y2', path=path,
                       line=dict(color=COLORS[g], width=1.6), layer='above'))

annotations = []


def txt(text, x, y, xref, yref, size, color='black', xanchor='left', yanchor='middle', **kw):
    annotations.append(dict(text=text, x=x, y=y, xref=xref, yref=yref, showarrow=False,
                            xanchor=xanchor, yanchor=yanchor,
                            font=dict(family=FONT, size=size, color=color), **kw))


# legends
leg_a_y = [0.175, 0.130, 0.082]
leg_b_y = [-5.07, -6.02, -6.99]
txt('Comparison', 0.527, 0.227, 'x', 'y', 20)
txt('Comparison', 6.34, -3.98, 'x2', 'y2', 20)
for i, g in enumerate(GROUPS):
    c = COLORS[g]
    shapes.append(dict(type='line', xref='x', yref='y', x0=0.530, x1=0.569, y0=leg_a_y[i], y1=leg_a_y[i],
                       line=dict(color=c, width=1.6), layer='above'))
    txt('a', 0.5495, leg_a_y[i] + 0.003, 'x', 'y', 19, c, xanchor='center')
    txt(f"{g} <span style='font-size:20px;color:{c}'>(r={r_a[i]})</span>", 0.589, leg_a_y[i], 'x', 'y', 17)

    shapes.append(dict(type='line', xref='x2', yref='y2', x0=6.41, x1=7.26, y0=leg_b_y[i], y1=leg_b_y[i],
                       line=dict(color=c, width=1.6), layer='above'))
    txt('a', 6.84, leg_b_y[i] + 0.07, 'x2', 'y2', 19, c, xanchor='center')
    txt(f"{g} <span style='font-size:20px;color:{c}'>(r={r_b[i]})</span>", 7.72, leg_b_y[i], 'x2', 'y2', 17)

for text, g, x, y, anchor, size in b_labels:
    txt(text, x, y, 'x2', 'y2', size, 'black', xanchor=anchor)

# axis titles and panel tags
txt('p value from Chinese cohort', 0.2536, 0.0, 'paper', 'paper', 20, xanchor='center', yanchor='bottom',
    borderpad=0)
txt('p value from French cohort', 0.0162, 0.511, 'paper', 'paper', 21, xanchor='center', textangle=-90)
txt('Reporter-score from Chinese cohort', 0.7705, 0.0, 'paper', 'paper', 20, xanchor='center',
    yanchor='bottom', borderpad=0)
txt('Reporter-score from French cohort', 0.4838, 0.527, 'paper', 'paper', 21, xanchor='center', textangle=-90)
txt('<b>A</b>', 0.0, 0.981, 'paper', 'paper', 25)
txt('<b>B</b>', 0.4805, 0.981, 'paper', 'paper', 25)

axis_common = dict(showline=True, mirror=True, linecolor='#4d4d4d', linewidth=1.3,
                   showgrid=True, gridcolor='#ebebeb', gridwidth=1.3, zeroline=False,
                   ticks='outside', ticklen=4, tickwidth=1.2, tickcolor='#333333',
                   tickfont=dict(family=FONT, size=16, color='#4d4d4d'))

fig.update_layout(
    width=1794, height=827,
    margin=dict(l=0, r=0, t=0, b=0),
    paper_bgcolor='white', plot_bgcolor='white',
    showlegend=False,
    xaxis=dict(domain=[0.0496, 0.4576], range=[-0.05, 1.05], tickmode='linear', tick0=0, dtick=0.25,
               tickformat='.2f', minor=dict(dtick=0.125, showgrid=True, gridcolor='#f4f4f4', gridwidth=0.7),
               anchor='y', **axis_common),
    yaxis=dict(domain=[0.0617, 0.9613], range=[-0.05, 1.05], tickmode='linear', tick0=0, dtick=0.25,
               tickformat='.2f', minor=dict(dtick=0.125, showgrid=True, gridcolor='#f4f4f4', gridwidth=0.7),
               anchor='x', **axis_common),
    xaxis2=dict(domain=[0.5139, 0.9994], range=[-14.3, 14.3], tickmode='linear', tick0=-13, dtick=2,
                minor=dict(tick0=-14, dtick=2, showgrid=True, gridcolor='#f4f4f4', gridwidth=0.7),
                anchor='y2', **axis_common),
    yaxis2=dict(domain=[0.0593, 0.9613], range=[-11, 11], tickmode='linear', tick0=-10, dtick=2,
                minor=dict(tick0=-11, dtick=2, showgrid=True, gridcolor='#f4f4f4', gridwidth=0.7),
                anchor='x2', **axis_common),
    shapes=shapes,
    annotations=annotations,
)

# the page adds a body margin; drop it so the figure sits at the window corner
fig.write_html('out.html', config={'displayModeBar': False},
               post_script="document.body.style.margin='0';")
